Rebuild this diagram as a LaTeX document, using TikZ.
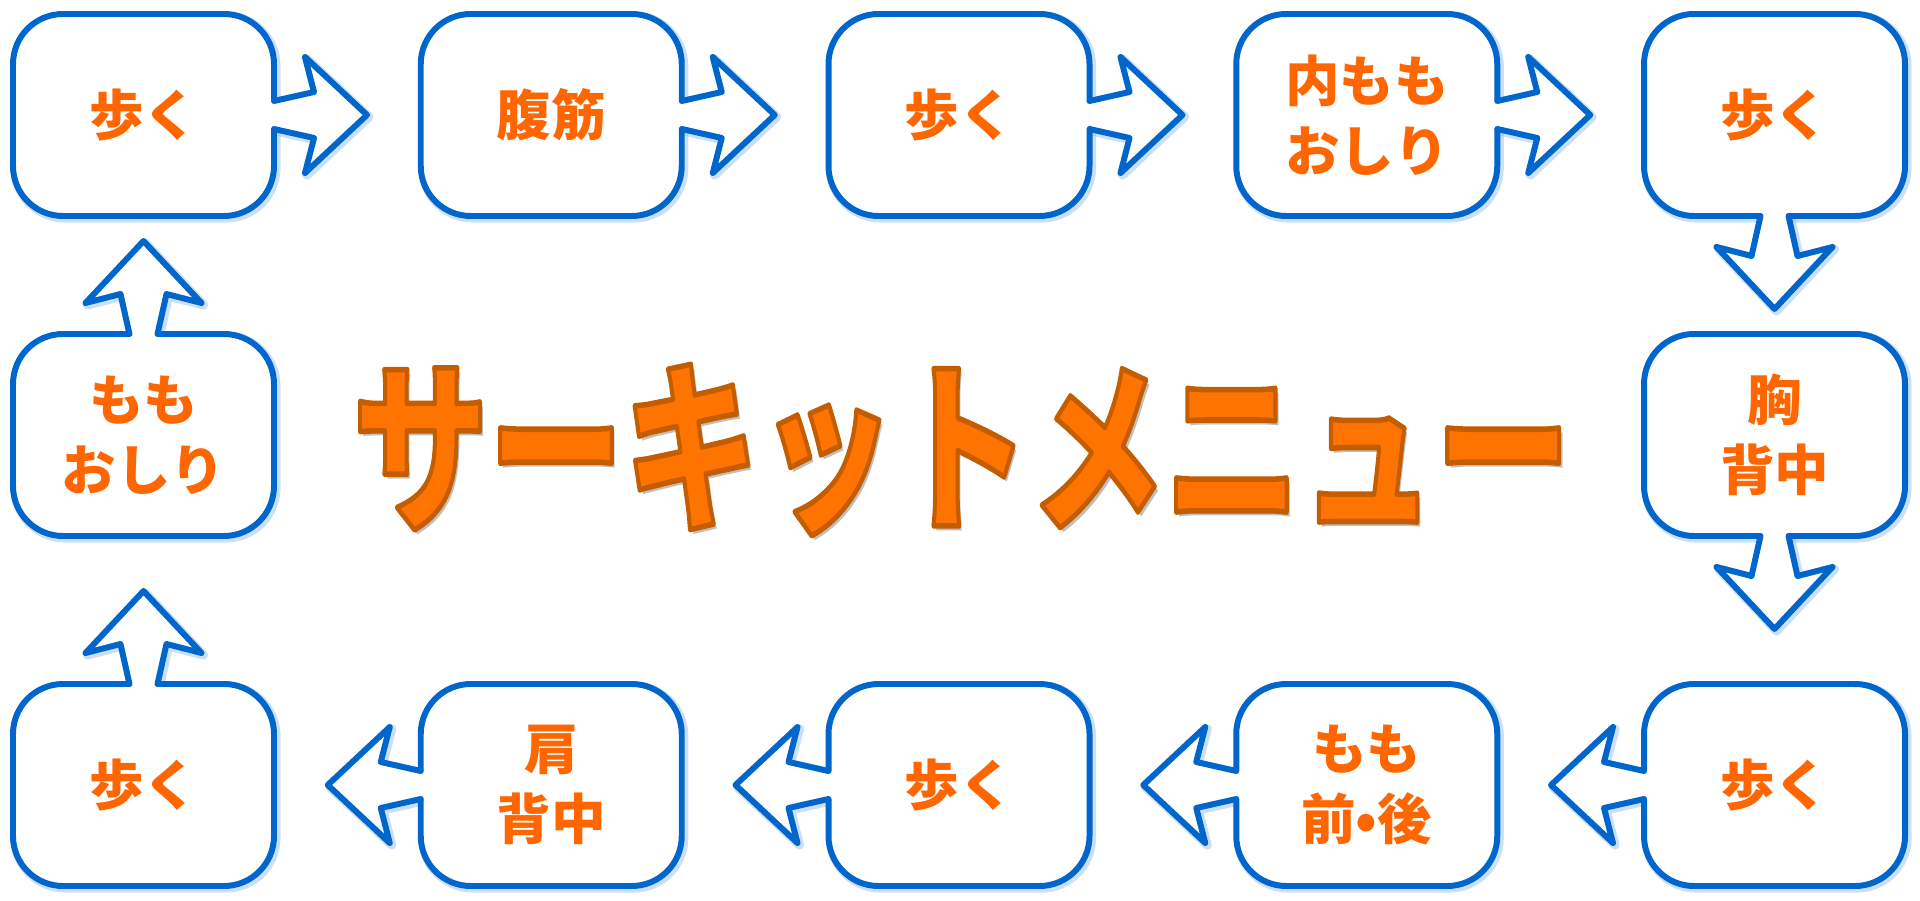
\documentclass[tikz,border=0pt]{standalone}
\usepackage{fontspec}
\setmainfont{Noto Sans CJK JP}
\newfontfamily\titlefont{Noto Sans CJK JP}
\usepackage{xcolor}
\usepackage{tikz}
\usetikzlibrary{
	backgrounds,
	calc,
	positioning
}
\tikzstyle{every picture}+=[>=stealth]

\definecolor{boxblue}{RGB}{0,102,204}
\definecolor{textorange}{RGB}{255,102,0}
\definecolor{titleorange}{RGB}{255,115,0}

% filled and stroked letters
\newcommand{\OutlineText}[1]{%
	\special{pdf:literal direct 2 Tr 1.5 w 1 j 0.77 0.36 0 RG}#1\special{pdf:literal direct 0 Tr}}

\begin{document}
\begin{tikzpicture}
	[stepbox/.style={draw=boxblue, fill=white, line width=1.7pt, rounded corners=0.5cm,
		minimum width=2.61cm, minimum height=2.02cm, outer sep=0pt, align=center,
		text=textorange, font=\fontsize{15.5}{20}\selectfont\bfseries},
	 stepline/.style={draw=boxblue, line width=1.7pt, line join=round, line cap=round},
	 stepshadow/.style={draw=boxblue!45, line width=2.6pt, opacity=.45, line join=round, line cap=round},
	 titletext/.style={font=\fontsize{50}{50}\selectfont\bfseries\titlefont, inner sep=0pt, transform shape}]

	\useasboundingbox (0,0) rectangle (19.2,9);

	% boxes
	\begin{scope}
		\foreach \name/\x/\y/\txt in {t1/1.435/7.85/{歩く}, t2/5.5125/7.85/{腹筋}, t3/9.59/7.85/{歩く},
			t4/13.6675/7.85/{内もも\\おしり}, t5/17.745/7.85/{歩く}, m5/17.745/4.65/{胸\\背中},
			b5/17.745/1.15/{歩く}, b4/13.6675/1.15/{もも\\前•後}, b3/9.59/1.15/{歩く},
			b2/5.5125/1.15/{肩\\背中}, b1/1.435/1.15/{歩く}, m1/1.435/4.65/{もも\\おしり}} {
			\node[stepbox] (\name) at (\x,\y) {\txt};
		}

		% soft shadows
		\begin{scope}[on background layer]
			\foreach \name in {t1,t2,t3,t4,t5,m5,b5,b4,b3,b2,b1,m1} {
				\draw[stepshadow, rounded corners=0.5cm]
					([shift={(0.02,-0.02)}]\name.south west) rectangle ([shift={(0.02,-0.02)}]\name.north east);
			}
		\end{scope}
	\end{scope}

	% arrows
	\begin{scope}
		\newcommand{\ArrowOutline}{(0,0.14) -- (0.40,0.23) -- (0.31,0.58) -- (0.93,0) -- (0.31,-0.58) -- (0.40,-0.23) -- (0,-0.14)}
		\newcommand{\StepArrow}[2]{%
			\begin{scope}[on background layer]
				\draw[stepshadow, shift={(#1)}, shift={(0.02,-0.02)}, rotate=#2] \ArrowOutline;
			\end{scope}
			\fill[white, shift={(#1)}, rotate=#2] (-0.045,0.14) -- \ArrowOutline -- (-0.045,-0.14) -- cycle;
			\draw[stepline, shift={(#1)}, rotate=#2] \ArrowOutline;
		}
		\foreach \from/\angle in {t1.east/0, t2.east/0, t3.east/0, t4.east/0, t5.south/-90, m5.south/-90,
			b5.west/180, b4.west/180, b3.west/180, b2.west/180, b1.north/90, m1.north/90} {
			\StepArrow{\from}{\angle}
		}
	\end{scope}

	% title
	\begin{scope}[shift={(9.62,4.5)}, xscale=.77, yscale=1.05]
		\node[titletext, text=black, opacity=.25] (title-shadow) at (0.045,-0.045) {サーキットメニュー};
		\node[titletext, text=titleorange] (title) at (0,0) {\OutlineText{サーキットメニュー}};
	\end{scope}

\end{tikzpicture}
\end{document}
